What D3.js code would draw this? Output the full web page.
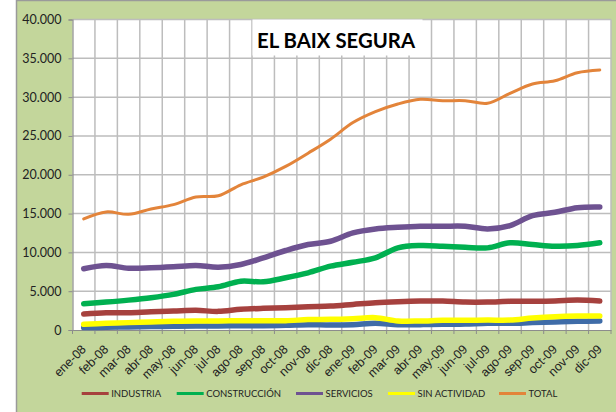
<!DOCTYPE html>
<html><head><meta charset="utf-8">
<script src="https://cdn.jsdelivr.net/npm/d3@7"></script>
<style>body{margin:0;background:#fff;} svg{display:block;font-family:Lato,"Open Sans",sans-serif;}</style>
</head><body><svg id="chart" width="616" height="412"></svg>
<script>
const months = ["ene-08","feb-08","mar-08","abr-08","may-08","jun-08","jul-08","ago-08","sep-08","oct-08","nov-08","dic-08",
                "ene-09","feb-09","mar-09","abr-09","may-09","jun-09","jul-09","ago-09","sep-09","oct-09","nov-09","dic-09"];
const agricultura   = [310,350,390,440,480,510,510,560,560,600,690,640,690,860,690,690,730,770,860,860,950,1030,1120,1160];
const industria     = [2060,2230,2230,2360,2440,2530,2400,2660,2790,2870,3000,3080,3300,3520,3650,3730,3730,3600,3600,3690,3690,3730,3850,3730];
const construccion  = [3390,3600,3850,4160,4590,5230,5570,6290,6210,6730,7370,8220,8730,9300,10580,10880,10790,10660,10580,11230,11010,10790,10880,11230];
const servicios     = [7890,8310,7960,8010,8140,8310,8090,8440,9300,10240,11010,11430,12510,13020,13230,13360,13360,13360,13020,13450,14730,15160,15760,15850];
const sinActividad  = [730,860,950,1030,1120,1160,1160,1200,1200,1200,1340,1370,1460,1590,1160,1160,1250,1250,1280,1280,1540,1720,1800,1800];
const total         = [14310,15210,14900,15590,16150,17130,17300,18710,19700,21070,22780,24580,26720,28130,29120,29720,29540,29540,29210,30490,31690,32110,33140,33490];
const yTicks = [0,5000,10000,15000,20000,25000,30000,35000,40000];
const title = "EL BAIX SEGURA";

const series = [
  {name:null, values:agricultura, color:"#3F6CA8", width:5.5},
  {name:"INDUSTRIA", values:industria, color:"#A6413E", width:5.5},
  {name:"CONSTRUCCIÓN", values:construccion, color:"#00B050", width:5.5},
  {name:"SERVICIOS", values:servicios, color:"#6E5291", width:5.5},
  {name:"SIN ACTIVIDAD", values:sinActividad, color:"#FFFF00", width:5.5},
  {name:"TOTAL", values:total, color:"#E3843A", width:3}
];

const svg = d3.select("#chart");
const W = 616, H = 412;
const plot = {l:72.5, r:611, t:19.5, b:330};

// background frame
svg.append("rect").attr("x",0).attr("y",0).attr("width",W).attr("height",H).attr("fill","#fff");
svg.append("rect").attr("x",16.5).attr("y",0.5).attr("width",W+20).attr("height",H+20).attr("fill","#C3D69B")
   .attr("stroke","#9A9A9A").attr("stroke-width",1.5);

const x = d3.scaleBand().domain(months).range([plot.l, plot.r]).padding(0);
const y = d3.scaleLinear().domain([0,40000]).range([plot.b, plot.t]);
const loc = d3.formatLocale({decimal:",", thousands:".", grouping:[3], currency:["","€"]});
const fmt = loc.format(",d");

// plot background
svg.append("rect").attr("x",plot.l).attr("y",plot.t).attr("width",plot.r-plot.l).attr("height",plot.b-plot.t).attr("fill","#fff");

// gridlines
const grid = svg.append("g").attr("stroke","#BDBDBD").attr("stroke-width",1.5);
grid.selectAll("line.h").data(yTicks.slice(1)).enter().append("line")
  .attr("x1",plot.l).attr("x2",plot.r).attr("y1",d=>y(d)).attr("y2",d=>y(d));
const vb = months.slice(1).map(m=>x(m)).concat([plot.r]);
grid.selectAll("line.v").data(vb).enter().append("line")
  .attr("x1",d=>d).attr("x2",d=>d).attr("y1",plot.t).attr("y2",plot.b);

// title box
const tb = svg.append("g");
tb.append("rect").attr("x",252.5).attr("y",plot.t).attr("width",170).attr("height",36).attr("fill","#fff");
tb.append("text").attr("x",257).attr("y",47.5).attr("font-size",21).attr("font-weight","bold")
  .attr("fill","#000").attr("textLength",158).attr("lengthAdjust","spacingAndGlyphs").text(title);

// axes
const yAxis = d3.axisLeft(y).tickValues(yTicks).tickFormat(fmt).tickSize(4).tickPadding(7);
const gy = svg.append("g").attr("transform",`translate(${plot.l},0)`).call(yAxis);
gy.select(".domain").attr("stroke","#8C8C8C").attr("stroke-width",1.2);
gy.selectAll(".tick line").attr("stroke","#8C8C8C");
gy.selectAll(".tick text").attr("font-size",12.5).attr("fill","#222").attr("font-family","Lato");

const xAxis = d3.axisBottom(x).tickSize(0).tickFormat("");
const gx = svg.append("g").attr("transform",`translate(0,${plot.b})`).call(xAxis);
gx.select(".domain").attr("stroke","#8C8C8C").attr("stroke-width",1.2);
gx.selectAll(".btick").data([plot.l].concat(vb)).enter().append("line").attr("class","btick")
  .attr("x1",d=>d).attr("x2",d=>d).attr("y1",0).attr("y2",4).attr("stroke","#8C8C8C");
gx.selectAll(".lbl").data(months).enter().append("text").attr("class","lbl")
  .attr("transform",d=>`translate(${x(d)+x.bandwidth()/2+3},${20}) rotate(-45)`)
  .attr("text-anchor","end").attr("font-size",12.5).attr("fill","#222").text(d=>d);

// lines
const line = d3.line().x((d,i)=>x(months[i])+x.bandwidth()/2).y(d=>y(d)).curve(d3.curveCatmullRom.alpha(0.5));
svg.append("g").selectAll("path").data(series).enter().append("path")
  .attr("d",d=>line(d.values)).attr("fill","none").attr("stroke",d=>d.color)
  .attr("stroke-width",d=>d.width).attr("stroke-linejoin","round").attr("stroke-linecap","round");

// legend
const legItems = series.filter(s=>s.name);
const legX = [81.7,176.7,296,388,499];
const lg = svg.append("g");
legItems.forEach((s,i)=>{
  const g = lg.append("g").attr("transform",`translate(${legX[i]},393.5)`);
  g.append("line").attr("x1",0).attr("x2",27).attr("y1",0).attr("y2",0).attr("stroke",s.color).attr("stroke-width",3);
  g.append("text").attr("x",29.5).attr("y",3.5).attr("font-size",9.5).attr("fill","#222").text(s.name);
});
</script></body></html>
